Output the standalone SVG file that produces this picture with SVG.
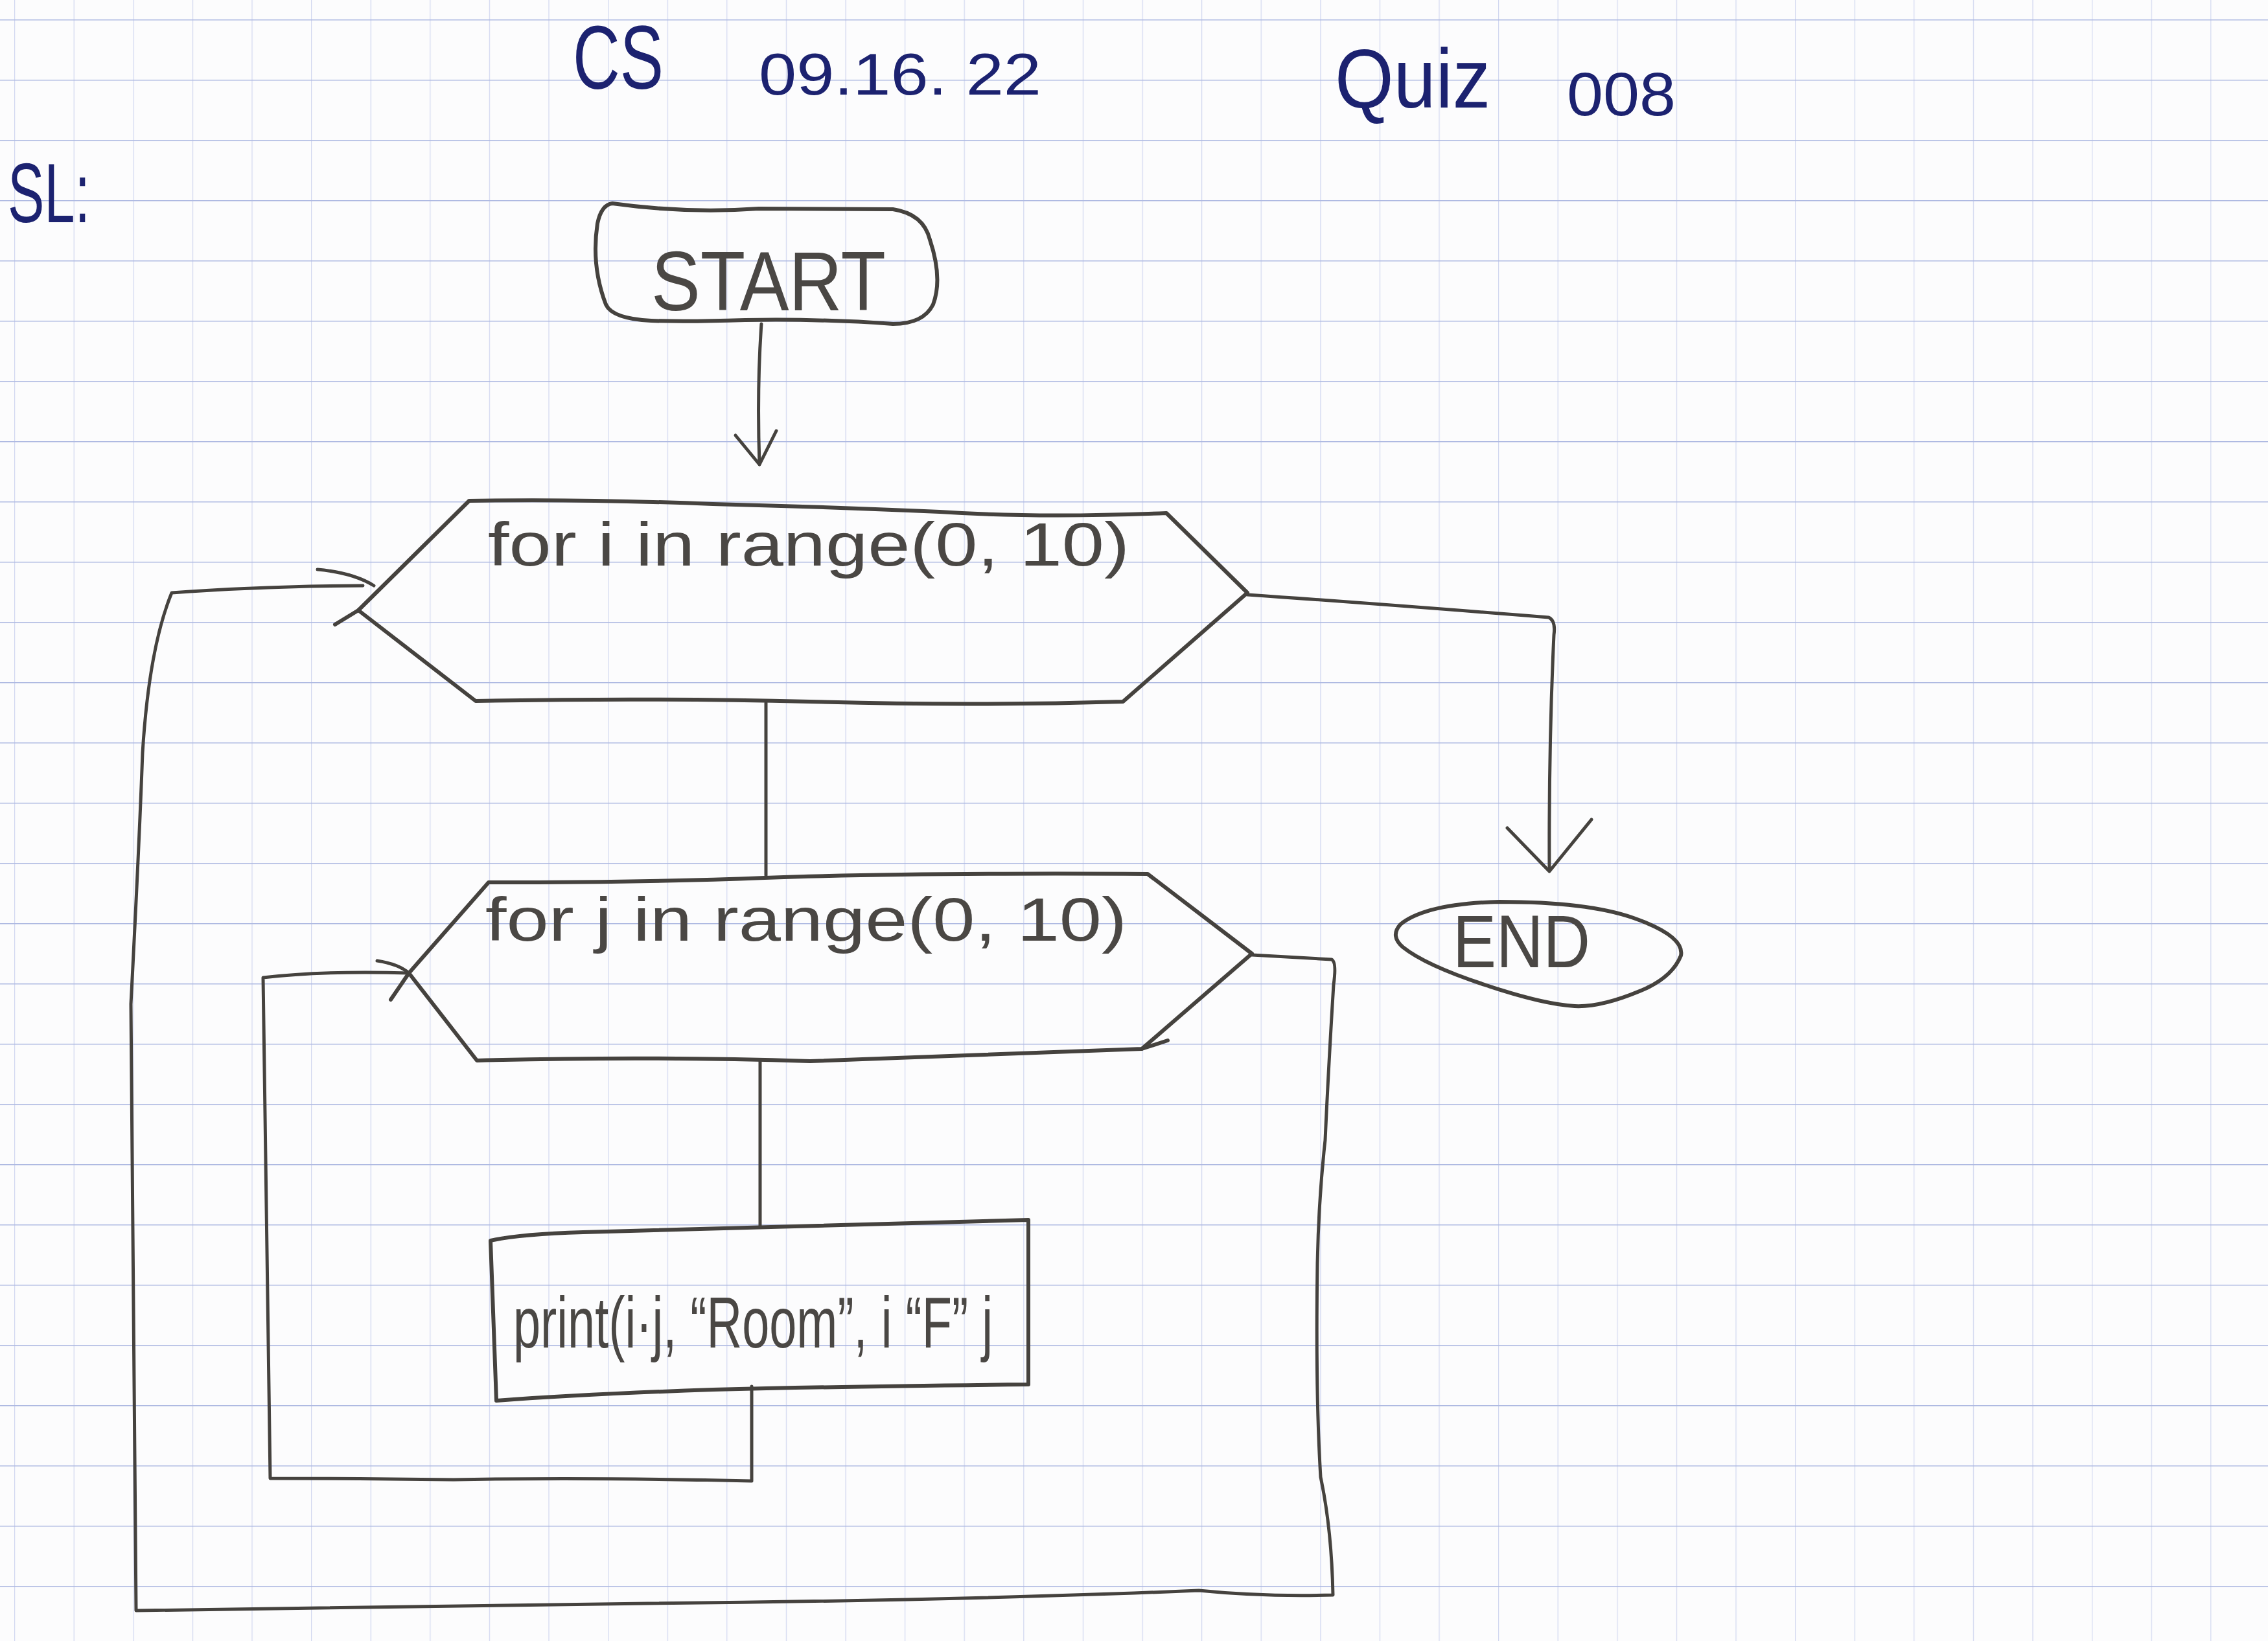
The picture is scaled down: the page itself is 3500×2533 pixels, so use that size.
<svg xmlns="http://www.w3.org/2000/svg" width="3500" height="2533" viewBox="0 0 3500 2533">
<defs>
<pattern id="grid" patternUnits="userSpaceOnUse" x="22" y="30" width="91.6" height="93">
<line x1="0" y1="0" x2="0" y2="93" stroke="#d2d8f0" stroke-width="2.5"/>
<line x1="0" y1="0" x2="91.6" y2="0" stroke="#aeb9e2" stroke-width="3"/>
</pattern>
</defs>
<style>
.pen{fill:none;stroke:#45423e;stroke-linecap:round;stroke-linejoin:round}
.box{stroke-width:6}
.con{stroke-width:5}
.ink{font-family:"Liberation Sans",Arial,sans-serif;fill:#1c2270}
.lbl{font-family:"Liberation Sans",Arial,sans-serif;fill:#4a4744}
</style>
<rect x="0" y="0" width="3500" height="2533" fill="#fcfcfd"/>
<rect x="0" y="0" width="3500" height="2533" fill="url(#grid)"/>

<g id="header">
<text class="ink" x="884" y="137" font-size="140" textLength="140" lengthAdjust="spacingAndGlyphs">CS</text>
<text class="ink" x="1171" y="146" font-size="90" textLength="436" lengthAdjust="spacingAndGlyphs">09.16. 22</text>
<text class="ink" x="2060" y="166" font-size="130" textLength="240" lengthAdjust="spacingAndGlyphs">Quiz</text>
<text class="ink" x="2418" y="178" font-size="95" textLength="168" lengthAdjust="spacingAndGlyphs">008</text>
<text class="ink" x="12" y="343" font-size="130" textLength="127" lengthAdjust="spacingAndGlyphs">SL:</text>
</g>

<g id="connectors">
<path class="pen con" d="M 1175 500 Q 1168 600 1172 717"/>
<path class="pen con" d="M 1135 672 L 1172 717 L 1198 665"/>
<path class="pen con" d="M 1182 1085 L 1182 1351"/>
<path class="pen con" d="M 1173 1638 L 1173 1892"/>
<path class="pen con" d="M 1160 2140 L 1160 2286 Q 900 2280 700 2284 Q 550 2282 417 2282 L 406 1509 Q 500 1498 631 1502"/>
<path class="pen con" d="M 582 1483 Q 615 1488 631 1502"/>
<path class="pen con" d="M 1932 1474 Q 2000 1478 2055 1481 Q 2063 1485 2058 1520 Q 2050 1650 2045 1760 Q 2035 1850 2033 1950 Q 2030 2150 2038 2280 Q 2055 2360 2057 2462 Q 1950 2465 1850 2455 Q 1500 2470 1000 2475 Q 600 2480 210 2486 Q 205 2000 202 1550 Q 215 1300 220 1162 Q 230 1000 265 915 Q 400 905 560 904"/>
<path class="pen con" d="M 490 879 Q 545 884 577 904"/>
<path class="pen con" d="M 1925 918 Q 2100 930 2390 953 Q 2401 958 2398 980 Q 2390 1150 2391 1343"/>
<path class="pen con" d="M 2326 1278 L 2391 1345 L 2456 1265"/>
</g>

<g id="node-start">
<path class="pen box" d="M 945 314 Q 1060 330 1171 322 L 1378 323 Q 1425 330 1435 370 Q 1455 430 1440 470 Q 1425 500 1378 500 Q 1270 492 1150 494 Q 1060 497 1005 495 Q 945 492 935 470 Q 912 410 922 345 Q 928 316 945 314 Z"/>
<text class="lbl" x="1005" y="479" font-size="130" textLength="362" lengthAdjust="spacingAndGlyphs">START</text>
</g>

<g id="node-for-i">
<path class="pen box" d="M 553 942 L 724 773 Q 900 770 1100 778 Q 1300 783 1450 790 Q 1600 800 1800 792 L 1925 915 L 1733 1083 Q 1500 1090 1250 1083 Q 1000 1077 734 1082 Z"/>
<path class="pen box" d="M 553 942 L 517 964"/>
<text class="lbl" x="753" y="873" font-size="95" textLength="990" lengthAdjust="spacingAndGlyphs">for i in range(0, 10)</text>
</g>

<g id="node-for-j">
<path class="pen box" d="M 631 1502 L 754 1362 Q 1000 1362 1180 1355 Q 1400 1347 1771 1349 L 1932 1472 L 1762 1619 Q 1500 1628 1250 1638 Q 1000 1630 736 1637 Z"/>
<path class="pen box" d="M 631 1502 L 603 1543 M 1762 1619 L 1802 1606"/>
<text class="lbl" x="749" y="1452" font-size="95" textLength="990" lengthAdjust="spacingAndGlyphs">for j in range(0, 10)</text>
</g>

<g id="node-print">
<path class="pen box" d="M 757 1915 Q 800 1905 900 1902 Q 1200 1893 1587 1883 L 1587 2137 Q 1300 2140 1100 2145 Q 900 2152 766 2162 Z"/>
<text class="lbl" x="792" y="2080" font-size="112" textLength="740" lengthAdjust="spacingAndGlyphs">print(i·j, “Room”, i “F” j</text>
</g>

<g id="node-end">
<path class="pen box" d="M 2161 1427 Q 2200 1395 2314 1392 Q 2450 1392 2521 1417 Q 2600 1445 2594 1475 Q 2580 1510 2530 1530 Q 2470 1555 2430 1553 Q 2380 1550 2291 1520 Q 2200 1490 2165 1462 Q 2145 1445 2161 1427 Z"/>
<text class="lbl" x="2242" y="1493" font-size="115" textLength="212" lengthAdjust="spacingAndGlyphs">END</text>
</g>
</svg>
